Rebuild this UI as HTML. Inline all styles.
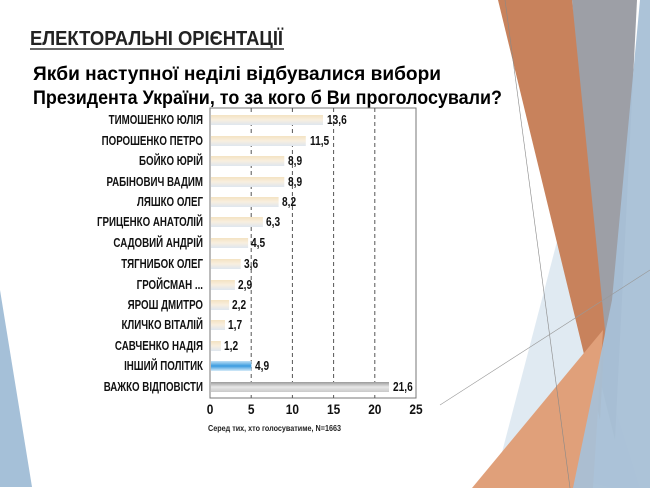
<!DOCTYPE html>
<html><head><meta charset="utf-8"><style>
html,body{margin:0;padding:0;background:#fff;}
svg{display:block;}
.l{font-family:"Liberation Sans",sans-serif;font-weight:bold;font-size:12.5px;fill:#111;}
.v{font-family:"Liberation Sans",sans-serif;font-weight:bold;font-size:13px;fill:#111;}
</style></head><body>
<svg width="650" height="488" viewBox="0 0 650 488" xmlns="http://www.w3.org/2000/svg">
<defs>
<linearGradient id="g1" x1="0" y1="0" x2="0" y2="1"><stop offset="0" stop-color="#f3e3c2"/><stop offset="0.5" stop-color="#f8efe0"/><stop offset="1" stop-color="#dfe6ef"/></linearGradient>
<linearGradient id="g2" x1="0" y1="0" x2="0" y2="1"><stop offset="0" stop-color="#bfe0f5"/><stop offset="0.5" stop-color="#3a9be0"/><stop offset="1" stop-color="#d6ebf8"/></linearGradient>
<linearGradient id="g3" x1="0" y1="0" x2="0" y2="1"><stop offset="0" stop-color="#9a9a9a"/><stop offset="0.5" stop-color="#e8e8e8"/><stop offset="1" stop-color="#c8c8c8"/></linearGradient>
</defs>
<polygon points="0,290 0,487 32,487" fill="#a5c0d8"/>
<polygon points="560,230 500,460 612,488 640,488" fill="#dbe6f0" opacity="0.85"/>
<polygon points="572,0 637,0 615,440 600,380" fill="#9d9fa6"/>
<polygon points="498,0 572,0 605,330 600,420" fill="#c8825c"/>
<polygon points="472,488 593,488 603,330" fill="#e0a07a"/>
<polygon points="640,0 650,0 650,488 573,488 612,300" fill="#a8c0d6" opacity="0.95"/>
<line x1="505" y1="0" x2="570" y2="488" stroke="#888" stroke-width="0.6"/>
<line x1="440" y1="405" x2="650" y2="270" stroke="#999" stroke-width="0.6"/>
<text x="30" y="45" font-family="Liberation Sans,sans-serif" font-weight="bold" font-size="20" fill="#222" textLength="253" lengthAdjust="spacingAndGlyphs">ЕЛЕКТОРАЛЬНІ  ОРІЄНТАЦІЇ</text>
<rect x="30" y="48" width="254" height="2" fill="#666"/>
<text x="33" y="80" font-family="Liberation Sans,sans-serif" font-weight="bold" font-size="19" fill="#000" textLength="408" lengthAdjust="spacingAndGlyphs">Якби наступної неділі відбувалися вибори</text>
<text x="33" y="104" font-family="Liberation Sans,sans-serif" font-weight="bold" font-size="19" fill="#000" textLength="469" lengthAdjust="spacingAndGlyphs">Президента України, то за кого б Ви проголосували?</text>
<rect x="210" y="108" width="206" height="290" fill="#fff" stroke="#777" stroke-width="1"/>
<g stroke="#555" stroke-dasharray="4,3" stroke-width="1">
<line x1="251.2" y1="108" x2="251.2" y2="398"/><line x1="292.4" y1="108" x2="292.4" y2="398"/><line x1="333.6" y1="108" x2="333.6" y2="398"/><line x1="374.8" y1="108" x2="374.8" y2="398"/>
</g>
<rect x="211" y="115" width="112" height="10" fill="url(#g1)"/>
<rect x="211" y="136" width="94.8" height="10" fill="url(#g1)"/>
<rect x="211" y="156" width="73.3" height="10" fill="url(#g1)"/>
<rect x="211" y="177" width="73.3" height="10" fill="url(#g1)"/>
<rect x="211" y="197" width="67.6" height="10" fill="url(#g1)"/>
<rect x="211" y="217" width="51.9" height="10" fill="url(#g1)"/>
<rect x="211" y="238" width="37.1" height="10" fill="url(#g1)"/>
<rect x="211" y="259" width="29.7" height="10" fill="url(#g1)"/>
<rect x="211" y="280" width="23.9" height="10" fill="url(#g1)"/>
<rect x="211" y="300" width="18.1" height="10" fill="url(#g1)"/>
<rect x="211" y="320" width="14" height="10" fill="url(#g1)"/>
<rect x="211" y="341" width="9.9" height="10" fill="url(#g1)"/>
<rect x="211" y="361" width="40.4" height="10" fill="url(#g2)"/>
<rect x="211" y="382" width="178" height="10" fill="url(#g3)"/>
<g class="v">
<text transform="translate(327,124) scale(0.78,1)">13,6</text>
<text transform="translate(310,145) scale(0.78,1)">11,5</text>
<text transform="translate(288,165) scale(0.78,1)">8,9</text>
<text transform="translate(288,186) scale(0.78,1)">8,9</text>
<text transform="translate(282,206) scale(0.78,1)">8,2</text>
<text transform="translate(266,226) scale(0.78,1)">6,3</text>
<text transform="translate(251,247) scale(0.78,1)">4,5</text>
<text transform="translate(244,268) scale(0.78,1)">3,6</text>
<text transform="translate(238,289) scale(0.78,1)">2,9</text>
<text transform="translate(232,309) scale(0.78,1)">2,2</text>
<text transform="translate(228,329) scale(0.78,1)">1,7</text>
<text transform="translate(224,350) scale(0.78,1)">1,2</text>
<text transform="translate(255,370) scale(0.78,1)">4,9</text>
<text transform="translate(393,391) scale(0.78,1)">21,6</text>
</g>
<g class="l" text-anchor="end">
<text transform="translate(203,124) scale(0.78,1)">ТИМОШЕНКО ЮЛІЯ</text>
<text transform="translate(203,145) scale(0.78,1)">ПОРОШЕНКО ПЕТРО</text>
<text transform="translate(203,165) scale(0.78,1)">БОЙКО ЮРІЙ</text>
<text transform="translate(203,186) scale(0.78,1)">РАБІНОВИЧ ВАДИМ</text>
<text transform="translate(203,206) scale(0.78,1)">ЛЯШКО ОЛЕГ</text>
<text transform="translate(203,226) scale(0.78,1)">ГРИЦЕНКО АНАТОЛІЙ</text>
<text transform="translate(203,247) scale(0.78,1)">САДОВИЙ АНДРІЙ</text>
<text transform="translate(203,268) scale(0.78,1)">ТЯГНИБОК ОЛЕГ</text>
<text transform="translate(203,289) scale(0.78,1)">ГРОЙСМАН ...</text>
<text transform="translate(203,309) scale(0.78,1)">ЯРОШ ДМИТРО</text>
<text transform="translate(203,329) scale(0.78,1)">КЛИЧКО ВІТАЛІЙ</text>
<text transform="translate(203,350) scale(0.78,1)">САВЧЕНКО НАДІЯ</text>
<text transform="translate(203,370) scale(0.78,1)">ІНШИЙ ПОЛІТИК</text>
<text transform="translate(203,391) scale(0.78,1)">ВАЖКО ВІДПОВІСТИ</text>
</g>
<g class="l" text-anchor="middle" style="font-size:14px">
<text transform="translate(210,414) scale(0.85,1)">0</text>
<text transform="translate(251.2,414) scale(0.85,1)">5</text>
<text transform="translate(292.4,414) scale(0.85,1)">10</text>
<text transform="translate(333.6,414) scale(0.85,1)">15</text>
<text transform="translate(374.8,414) scale(0.85,1)">20</text>
<text transform="translate(416,414) scale(0.85,1)">25</text>
</g>
<text x="208" y="431" font-family="Liberation Sans,sans-serif" font-weight="bold" font-size="8" fill="#222" textLength="133" lengthAdjust="spacingAndGlyphs">Серед тих, хто голосуватиме, N=1663</text>
</svg>
</body></html>
